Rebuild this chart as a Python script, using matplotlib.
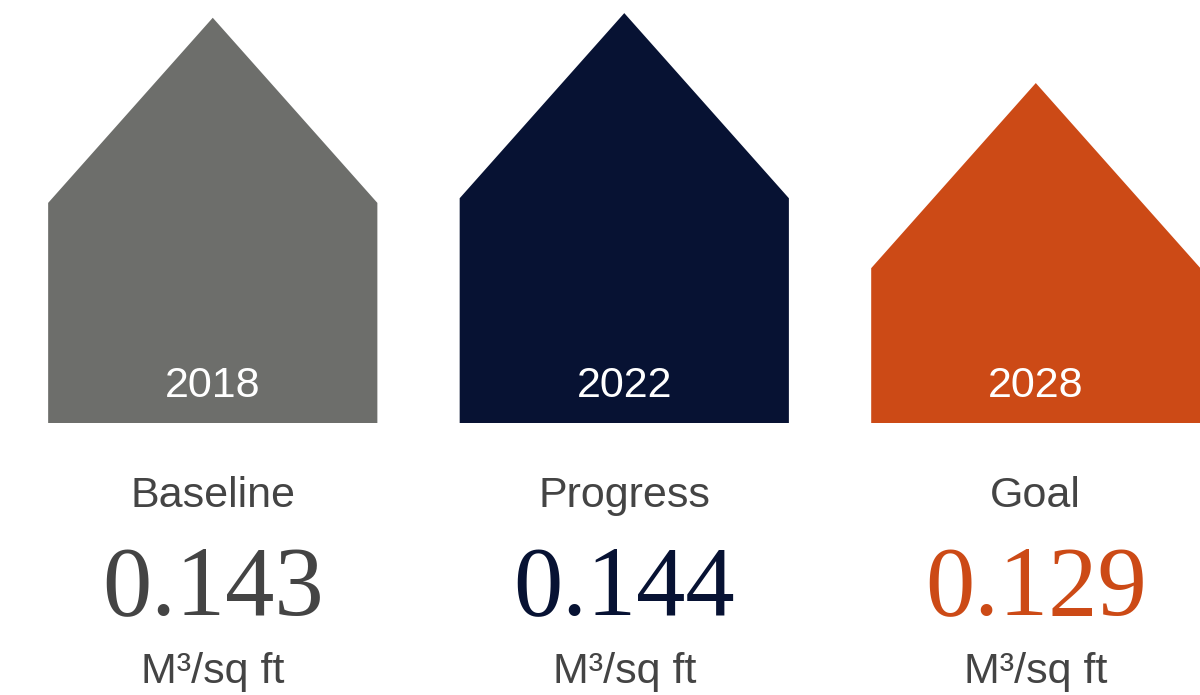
import matplotlib.pyplot as plt
from matplotlib.patches import Polygon
from matplotlib.transforms import blended_transform_factory

years = ["2018", "2022", "2028"]
labels = ["Baseline", "Progress", "Goal"]
values = [0.143, 0.144, 0.129]
unit = "M\u00b3/sq ft"

house_colors = ["#6d6e6b", "#071233", "#cc4a16"]
value_colors = ["#444444", "#071233", "#cc4a16"]
text_gray = "#444444"

base = 0.0561      # value at the floor line of the houses
roof = 0.0397      # roof height in value units
width = 0.8

fig = plt.figure(figsize=(12, 6.95), dpi=100)
ax = fig.add_axes([0, 0, 1, 1])
ax.set_xlim(-0.517, 2.399)
ax.set_ylim(-0.00223, 0.14681)
ax.axis("off")

trans = blended_transform_factory(ax.transData, ax.transAxes)

for i, v in enumerate(values):
    x0, x1 = i - width / 2, i + width / 2
    pts = [(x0, base), (x1, base), (x1, v - roof), (i, v), (x0, v - roof)]
    ax.add_patch(Polygon(pts, closed=True, facecolor=house_colors[i],
                         edgecolor="none"))

    ax.text(i, 0.4288, years[i], transform=trans, ha="center", va="baseline",
            color="white", fontsize=31, family="Liberation Sans")
    ax.text(i, 0.2705, labels[i], transform=trans, ha="center", va="baseline",
            color=text_gray, fontsize=31, family="Liberation Sans")
    ax.text(i, 0.1165, f"{v:.3f}", transform=trans, ha="center", va="baseline",
            color=value_colors[i], fontsize=71, family="Liberation Serif")
    ax.text(i, 0.0173, unit, transform=trans, ha="center", va="baseline",
            color=text_gray, fontsize=31, family="Liberation Sans")

fig.savefig("out.png", dpi=100, facecolor="white")
